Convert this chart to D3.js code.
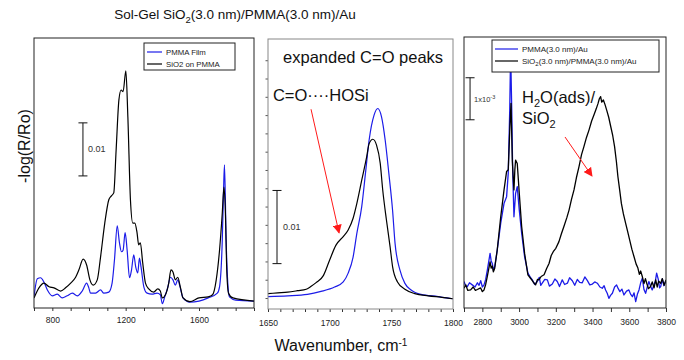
<!DOCTYPE html>
<html>
<head>
<meta charset="utf-8">
<script src="https://cdnjs.cloudflare.com/ajax/libs/d3/7.8.5/d3.min.js"></script>
<style>
  body { margin: 0; background: #fff; }
  text { font-family: "Liberation Sans", Arial, Helvetica, sans-serif; }
</style>
</head>
<body>
<svg id="chart" width="684" height="360"></svg>
<script>
// values in units of 1e-3 (panels 1, 2) and 1e-4 (panel 3) absorbance
const pmmaFilm = [[700,2.1],[718,5.5],[736,5.7],[754,4.9],[773,3.4],[800,2.3],[827,2.6],[854,1.9],[881,2.3],[909,2.8],
  [936,2.3],[963,3.2],[987,4.7],[999,3.8],[1008,2.8],[1036,2.8],[1063,3.4],[1081,2.8],[1108,3.0],[1126,4.7],[1139,9.1],
  [1154,15.5],[1166,12.3],[1177,10.6],[1186,10.9],[1197,14.2],[1208,10.9],[1221,5.7],[1232,7.2],[1244,10.0],[1255,7.7],
  [1266,6.6],[1275,9.4],[1284,7.7],[1299,4.0],[1317,2.8],[1344,2.6],[1371,2.8],[1389,2.5],[1400,0.8],[1413,2.1],
  [1429,3.8],[1444,5.8],[1458,5.3],[1471,4.3],[1484,5.3],[1498,3.8],[1513,1.9],[1550,1.1],[1600,1.3],[1650,1.9],
  [1700,2.8],[1712,4.0],[1727,12.8],[1734,22.3],[1739,27.0],[1748,12.8],[1757,4.7],[1766,2.1],[1800,1.5],[1900,1.3]];
const sio2OnPmma = [[700,1.9],[727,3.8],[754,4.7],[782,4.0],[809,3.8],[845,3.2],[872,3.8],[900,4.7],[927,5.8],[945,7.2],
  [968,9.2],[987,8.1],[1005,5.3],[1023,4.3],[1045,5.3],[1063,9.6],[1086,16.0],[1108,20.4],[1121,21.1],[1135,21.7],
  [1148,29.8],[1163,39.2],[1175,41.1],[1186,40.8],[1201,44.7],[1212,36.0],[1226,20.4],[1239,16.0],[1250,16.0],
  [1262,14.2],[1271,11.9],[1280,12.3],[1293,8.5],[1308,4.7],[1326,3.6],[1353,3.0],[1375,3.6],[1389,3.2],[1400,1.9],
  [1417,2.5],[1435,4.7],[1447,7.2],[1458,6.8],[1471,5.3],[1484,5.8],[1498,4.0],[1513,1.9],[1550,1.2],[1600,1.9],
  [1650,2.1],[1674,2.5],[1694,5.3],[1712,10.9],[1727,17.9],[1736,22.8],[1743,19.1],[1752,6.6],[1761,2.8],[1785,1.9],
  [1900,1.3]];

const pmmaCO = [[1650,2.7],[1666,2.8],[1682,3.0],[1693,3.4],[1704,4.0],[1711,4.7],[1715,5.9],[1719,8.1],[1722,11.3],
  [1726,15.0],[1729,19.5],[1732,24.1],[1736,27.5],[1739,28.4],[1742,27.3],[1745,24.1],[1748,19.5],[1751,14.5],
  [1753,10.0],[1757,6.3],[1761,4.5],[1766,3.6],[1774,3.0],[1788,2.7],[1800,2.4]];
const sio2CO = [[1650,3.1],[1658,3.2],[1666,3.3],[1674,3.5],[1681,3.7],[1685,4.1],[1689,4.6],[1695,5.6],[1700,7.7],
  [1705,9.7],[1711,10.9],[1715,11.8],[1719,13.4],[1722,15.4],[1726,18.6],[1730,21.8],[1732,23.6],[1735,24.2],
  [1738,23.4],[1741,20.9],[1743,17.3],[1746,13.2],[1749,9.5],[1751,6.8],[1755,4.7],[1761,3.7],[1769,3.1],
  [1780,2.8],[1791,2.6],[1800,2.4]];

const pmmaCH = [[2700,6.3],[2710,5.2],[2718,5.1],[2730,6.0],[2745,5.5],[2760,5.0],[2773,6.0],[2782,5.4],[2791,6.5],
  [2800,5.0],[2809,5.5],[2818,6.8],[2827,9.0],[2842,13.0],[2848,11.2],[2854,10.6],[2860,9.0],[2867,9.8],[2881,13.8],
  [2900,20.2],[2918,24.9],[2932,26.5],[2941,32.1],[2949,47.1],[2954,61.0],[2960,47.1],[2965,32.9],[2972,21.7],
  [2981,27.3],[2990,28.9],[3001,23.3],[3014,17.8],[3030,12.2],[3048,8.3],[3060,7.4],[3072,6.7],[3085,5.6],[3099,6.3],
  [3110,7.3],[3118,5.4],[3126,5.9],[3140,6.8],[3154,6.7],[3165,5.2],[3181,5.7],[3195,6.9],[3208,6.3],[3220,5.1],
  [3235,6.7],[3248,5.6],[3263,5.9],[3275,7.2],[3290,6.5],[3303,5.4],[3317,6.8],[3330,6.1],[3344,6.0],[3358,7.4],
  [3372,6.5],[3385,5.5],[3399,5.7],[3412,6.2],[3426,5.9],[3440,5.0],[3453,4.7],[3463,5.3],[3471,4.3],[3480,3.5],
  [3489,2.3],[3498,3.0],[3508,3.5],[3520,5.0],[3531,5.5],[3540,4.6],[3549,3.9],[3560,4.5],[3571,3.1],[3585,4.0],
  [3598,4.3],[3607,3.3],[3617,2.7],[3626,3.6],[3635,1.5],[3645,3.4],[3653,4.3],[3662,6.0],[3671,7.1],[3680,4.4],
  [3689,3.5],[3698,5.0],[3707,6.3],[3716,5.2],[3725,4.3],[3735,5.6],[3742,6.4],[3749,8.3],[3758,6.8],[3765,4.8],
  [3771,5.1],[3780,6.9],[3788,5.3],[3798,6.3]];
const sio2CH = [[2700,4.7],[2710,5.5],[2720,4.2],[2736,4.3],[2750,5.0],[2762,4.2],[2773,4.4],[2790,4.8],[2800,3.9],
  [2809,4.3],[2818,5.6],[2827,7.5],[2842,11.0],[2848,9.5],[2854,10.0],[2860,8.6],[2867,9.4],[2881,13.8],[2900,21.7],
  [2918,28.1],[2932,32.5],[2941,32.9],[2950,43.2],[2956,48.7],[2963,35.2],[2968,31.0],[2972,28.1],[2977,33.0],
  [2981,35.2],[2990,34.4],[3001,27.3],[3014,19.4],[3030,13.0],[3048,7.9],[3060,7.2],[3072,6.5],[3080,6.0],[3090,5.5],
  [3100,6.8],[3108,6.7],[3120,7.5],[3136,7.9],[3150,9.4],[3163,10.6],[3175,12.5],[3186,13.4],[3200,14.2],[3217,15.8],
  [3230,17.6],[3244,19.4],[3260,21.5],[3272,23.3],[3285,25.8],[3299,28.1],[3312,31.0],[3326,33.6],[3340,36.5],
  [3353,38.4],[3367,40.6],[3381,42.4],[3395,44.5],[3408,46.0],[3420,47.4],[3430,48.7],[3437,49.8],[3444,50.3],
  [3450,49.0],[3459,49.5],[3468,48.4],[3477,47.1],[3488,45.4],[3499,43.2],[3510,41.0],[3520,38.4],[3530,34.8],
  [3538,31.3],[3548,28.0],[3557,24.9],[3568,22.4],[3580,20.2],[3590,18.4],[3602,16.2],[3614,14.0],[3626,12.2],
  [3637,10.5],[3647,9.5],[3655,8.0],[3662,8.8],[3671,7.5],[3680,5.8],[3688,7.0],[3695,5.9],[3705,4.6],[3716,5.1],
  [3725,6.2],[3735,4.8],[3744,6.7],[3752,5.0],[3760,6.4],[3771,5.9],[3780,7.0],[3790,5.4],[3800,6.7]];

const p1Ticks = d3.range(700, 1901, 100);
const p1Labels = [800, 1200, 1600];
const p2Ticks = d3.range(1650, 1801, 10);
const p2Labels = [1650, 1700, 1750, 1800];
const p2YTicks = d3.range(2.5, 36, 2.5);
const p3Ticks = d3.range(2700, 3801, 100);
const p3Labels = [2800, 3000, 3200, 3400, 3600, 3800];

const blue = '#1c1ce8';
const svg = d3.select('#chart');
svg.append('rect').attr('width', 684).attr('height', 360).attr('fill', '#fff');

const defs = svg.append('defs');
defs.append('marker')
  .attr('id', 'arrow').attr('viewBox', '0 0 10 10').attr('refX', 9).attr('refY', 5)
  .attr('markerWidth', 9).attr('markerHeight', 9).attr('markerUnits', 'userSpaceOnUse').attr('orient', 'auto')
  .append('path').attr('d', 'M0,0L10,5L0,10Z').attr('fill', '#ff1a1a');

function panel(id, box, xDomain, yDomain, series, ticks, labels, opts) {
  const x = d3.scaleLinear().domain(xDomain).range([box.x0, box.x1]);
  const y = d3.scaleLinear().domain(yDomain).range([box.y1, box.y0]);
  const g = svg.append('g');

  defs.append('clipPath').attr('id', 'clip' + id)
    .append('rect').attr('x', box.x0).attr('y', box.y0)
    .attr('width', box.x1 - box.x0).attr('height', box.y1 - box.y0);

  const line = d3.line().x(d => x(d[0])).y(d => y(d[1])).curve(opts.curve);
  g.append('g').attr('clip-path', 'url(#clip' + id + ')')
    .selectAll('path').data(series).enter().append('path')
    .attr('d', s => line(s.values))
    .attr('fill', 'none')
    .attr('stroke', s => s.color)
    .attr('stroke-width', opts.lw)
    .attr('stroke-linejoin', 'round');

  const ax = g.append('g').attr('transform', 'translate(0,' + box.y1 + ')')
    .call(d3.axisBottom(x).tickValues(ticks).tickSize(opts.tick).tickPadding(opts.pad)
      .tickFormat(d => labels.includes(d) ? d : ''));
  ax.select('.domain').remove();
  ax.selectAll('line').attr('stroke', '#333');
  ax.selectAll('text').attr('font-size', 8.5).attr('fill', '#222')
    .attr('font-family', '"Liberation Sans", Arial, sans-serif');

  if (opts.yTicks) {
    const ay = g.append('g').attr('transform', 'translate(' + box.x0 + ',0)')
      .call(d3.axisLeft(y).tickValues(opts.yTicks).tickSize(2.5).tickFormat(''));
    ay.select('.domain').remove();
    ay.selectAll('line').attr('stroke', '#555');
  }

  g.append('rect').attr('x', box.x0).attr('y', box.y0)
    .attr('width', box.x1 - box.x0).attr('height', box.y1 - box.y0)
    .attr('fill', 'none').attr('stroke', opts.frame).attr('stroke-width', 1);

  return { g, x, y };
}

function scaleBar(p, wn, v0, v1) {
  const g = p.g.append('g').attr('stroke', '#111').attr('stroke-width', 1);
  g.append('line').attr('x1', p.x(wn)).attr('x2', p.x(wn)).attr('y1', p.y(v0)).attr('y2', p.y(v1));
  [v0, v1].forEach(v => g.append('line').attr('x1', p.x(wn) - 4.5).attr('x2', p.x(wn) + 4.5)
    .attr('y1', p.y(v)).attr('y2', p.y(v)));
}

function legend(p, x0, y0, w, h, items, fs, lineLen) {
  const g = p.g.append('g');
  g.append('rect').attr('x', x0).attr('y', y0).attr('width', w).attr('height', h)
    .attr('fill', '#fff').attr('stroke', '#222').attr('stroke-width', 1);
  items.forEach((it, i) => {
    const yy = y0 + 9 + i * 12;
    g.append('line').attr('x1', x0 + 3).attr('x2', x0 + 3 + lineLen).attr('y1', yy).attr('y2', yy)
      .attr('stroke', it.color).attr('stroke-width', 1.2);
    const t = g.append('text').attr('x', x0 + lineLen + 7).attr('y', yy + 2.8)
      .attr('font-size', fs).attr('fill', '#222');
    it.parts.forEach(pt => t.append('tspan').text(pt[0])
      .attr('dy', pt[1]).attr('font-size', pt[2] || fs));
  });
}

// panel 1: full spectrum
const p1 = panel(1, { x0: 34, x1: 254, y0: 38, y1: 308 }, [700, 1900], [0, 50.9],
  [{ values: pmmaFilm, color: blue }, { values: sio2OnPmma, color: '#000' }],
  p1Ticks, p1Labels, { curve: d3.curveMonotoneX, lw: 1.2, tick: 3, pad: 6, frame: '#222' });
scaleBar(p1, 967, 24.9, 34.9);
p1.g.append('text').attr('x', p1.x(967) + 5).attr('y', p1.y(29.9) + 3).attr('font-size', 9)
  .attr('fill', '#333').text('0.01');
legend(p1, 144, 43, 91, 27, [
  { color: blue, parts: [['PMMA Film', 0]] },
  { color: '#000', parts: [['SiO2 on PMMA', 0]] }
], 7.8, 15);

// panel 2: expanded C=O
const p2 = panel(2, { x0: 268, x1: 453, y0: 39, y1: 309 }, [1650, 1800], [1.0, 37.9],
  [{ values: pmmaCO, color: blue }, { values: sio2CO, color: '#000' }],
  p2Ticks, p2Labels, { curve: d3.curveMonotoneX, lw: 1.2, tick: 3, pad: 8, frame: '#888', yTicks: p2YTicks });
scaleBar(p2, 1657.3, 7.2, 17.2);
p2.g.append('text').attr('x', p2.x(1657.3) + 6).attr('y', p2.y(12.2) + 3).attr('font-size', 9)
  .attr('fill', '#333').text('0.01');
p2.g.append('text').attr('x', p2.x(1662.2)).attr('y', p2.y(34.6)).attr('font-size', 16.5)
  .attr('fill', '#111').text('expanded C=O peaks');
p2.g.append('text').attr('x', p2.x(1654)).attr('y', p2.y(29.4)).attr('font-size', 16.5)
  .attr('fill', '#111').text('C=O\u00b7\u00b7\u00b7\u00b7HOSi');
p2.g.append('line').attr('x1', p2.x(1684.9)).attr('y1', p2.y(28.3))
  .attr('x2', p2.x(1707.6)).attr('y2', p2.y(11.4))
  .attr('stroke', '#ff1a1a').attr('stroke-width', 1).attr('marker-end', 'url(#arrow)');

// panel 3: C-H / O-H region
const p3 = panel(3, { x0: 464, x1: 666, y0: 37, y1: 308 }, [2700, 3800], [0, 64.5],
  [{ values: pmmaCH, color: blue }, { values: sio2CH, color: '#000' }],
  p3Ticks, p3Labels, { curve: d3.curveLinear, lw: 1.3, tick: 4, pad: 7, frame: '#222' });
scaleBar(p3, 2733, 44.8, 54.8);
const sb = p3.g.append('text').attr('x', p3.x(2733) + 4).attr('y', p3.y(49.8) + 3)
  .attr('font-size', 7.5).attr('fill', '#333');
sb.append('tspan').text('1x10');
sb.append('tspan').text('-3').attr('dy', -3).attr('font-size', 5.5);
legend(p3, 492, 40, 167, 32, [
  { color: blue, parts: [['PMMA(3.0 nm)/Au', 0]] },
  { color: '#000', parts: [['SiO', 0], ['2', 2, 6], ['(3.0 nm)/PMMA(3.0 nm)/Au', -2]] }
], 8, 23);
const h2o = p3.g.append('text').attr('x', p3.x(3016)).attr('y', p3.y(48.8)).attr('font-size', 16.5).attr('fill', '#111');
h2o.append('tspan').text('H');
h2o.append('tspan').text('2').attr('dy', 4).attr('font-size', 11);
h2o.append('tspan').text('O(ads)/').attr('dy', -4);
const sio = p3.g.append('text').attr('x', p3.x(3016)).attr('y', p3.y(43.8)).attr('font-size', 16.5).attr('fill', '#111');
sio.append('tspan').text('SiO');
sio.append('tspan').text('2').attr('dy', 4).attr('font-size', 11);
p3.g.append('line').attr('x1', p3.x(3250)).attr('y1', p3.y(40.7))
  .attr('x2', p3.x(3397)).attr('y2', p3.y(31.4))
  .attr('stroke', '#ff1a1a').attr('stroke-width', 1).attr('marker-end', 'url(#arrow)');

// shared titles
const title = svg.append('text').attr('x', 235).attr('y', 19).attr('text-anchor', 'middle')
  .attr('font-size', 13.5).attr('fill', '#111');
title.append('tspan').text('Sol-Gel SiO');
title.append('tspan').text('2').attr('dy', 3.5).attr('font-size', 9.5);
title.append('tspan').text('(3.0 nm)/PMMA(3.0 nm)/Au').attr('dy', -3.5);

svg.append('text').attr('transform', 'translate(30,146) rotate(-90)').attr('text-anchor', 'middle')
  .attr('font-size', 16).attr('fill', '#111').text('-log(R/Ro)');

const xl = svg.append('text').attr('x', 341).attr('y', 351).attr('text-anchor', 'middle')
  .attr('font-size', 16).attr('fill', '#111');
xl.append('tspan').text('Wavenumber, cm');
xl.append('tspan').text('-1').attr('dy', -5).attr('font-size', 10);
</script>
</body>
</html>
